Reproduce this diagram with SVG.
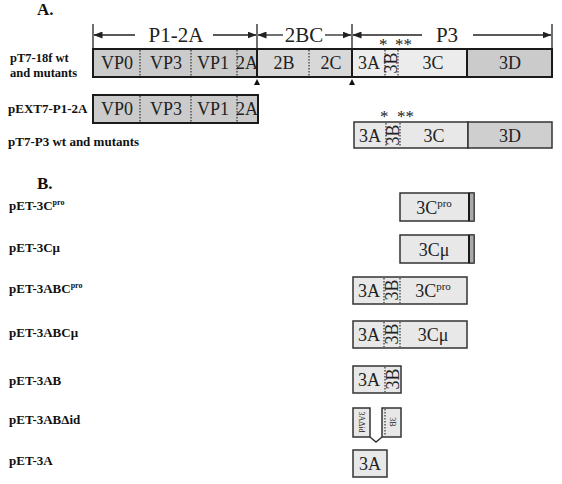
<svg xmlns="http://www.w3.org/2000/svg" width="562" height="484" viewBox="0 0 562 484">
<style>
.lbl{font-family:"Liberation Serif",serif;font-weight:bold;font-size:13px;fill:#111}
.hd{font-family:"Liberation Serif",serif;font-weight:bold;font-size:17px;fill:#111}
.bt{font-family:"Liberation Serif",serif;font-size:18px;fill:#222;text-anchor:middle}
.dim{font-family:"Liberation Serif",serif;font-size:21px;fill:#222;text-anchor:middle}
.ast{font-family:"Liberation Serif",serif;font-size:17px;fill:#222}
.dk{fill:#cbcbcb;stroke:#1a1a1a;stroke-width:2}
.md{fill:#d8d8d8;stroke:#1a1a1a;stroke-width:2}
.lt{fill:#ececec;stroke:#1a1a1a;stroke-width:2}
.bx{fill:#e8e8e8;stroke:#333;stroke-width:1.5}
.dot{stroke:#333;stroke-width:1.2;stroke-dasharray:1.5,1.5;fill:none}
.sol{stroke:#1a1a1a;stroke-width:2;fill:none}
.ln{stroke:#222;stroke-width:1.3;fill:none}
</style>
<defs>
<marker id="ah" markerWidth="9" markerHeight="7" refX="8.5" refY="3.5" orient="auto" markerUnits="userSpaceOnUse">
<path d="M0,0 L9,3.5 L0,7 Z" fill="#222"/>
</marker>
</defs>

<text class="hd" x="37" y="15">A.</text>
<text class="hd" x="37" y="189">B.</text>

<g id="connectors">
<line class="ln" x1="93" y1="24" x2="93" y2="49"/>
<line class="ln" x1="257" y1="24" x2="257" y2="49"/>
<line class="ln" x1="352" y1="24" x2="352" y2="49"/>
<line class="ln" x1="552" y1="24" x2="552" y2="49"/>
<line class="ln" x1="135" y1="35" x2="94" y2="35" marker-end="url(#ah)"/>
<line class="ln" x1="213" y1="35" x2="256" y2="35" marker-end="url(#ah)"/>
<line class="ln" x1="283" y1="35" x2="258" y2="35" marker-end="url(#ah)"/>
<line class="ln" x1="325" y1="35" x2="351" y2="35" marker-end="url(#ah)"/>
<line class="ln" x1="422" y1="35" x2="353" y2="35" marker-end="url(#ah)"/>
<line class="ln" x1="473" y1="35" x2="551" y2="35" marker-end="url(#ah)"/>
<path d="M257,79 L254,85 L260,85 Z" fill="#111"/>
<path d="M352,79 L349,85 L355,85 Z" fill="#111"/>
</g>
<text class="dim" x="176" y="42">P1-2A</text>
<text class="dim" x="304" y="42">2BC</text>
<text class="dim" x="447" y="42">P3</text>

<g id="pT7-18f">
<text class="lbl" x="10" y="62" style="font-size:12.5px">pT7-18f wt</text>
<text class="lbl" x="10" y="77" style="font-size:12.5px">and mutants</text>
<rect class="dk" x="93" y="49" width="164" height="28"/>
<rect class="md" x="257" y="49" width="95" height="28"/>
<rect class="lt" x="352" y="49" width="115" height="28"/>
<rect class="dk" x="467" y="49" width="85" height="28"/>
<line class="dot" x1="140" y1="50" x2="140" y2="76"/>
<line class="dot" x1="191" y1="50" x2="191" y2="76"/>
<line class="dot" x1="237" y1="50" x2="237" y2="76"/>
<line class="dot" x1="309" y1="50" x2="309" y2="76"/>
<line class="dot" x1="385" y1="50" x2="385" y2="76"/>
<line class="dot" x1="398" y1="50" x2="398" y2="76"/>
<text class="bt" x="117" y="69">VP0</text>
<text class="bt" x="166" y="69">VP3</text>
<text class="bt" x="213" y="69">VP1</text>
<text class="bt" x="247" y="69">2A</text>
<text class="bt" x="284" y="69">2B</text>
<text class="bt" x="331" y="69">2C</text>
<text class="bt" x="369" y="69">3A</text>
<text class="bt" transform="translate(397,63) rotate(-90)">3B</text>
<text class="bt" x="433" y="69">3C</text>
<text class="bt" x="510" y="69">3D</text>
<text class="ast" x="379" y="50">*</text>
<text class="ast" x="395" y="50">**</text>
</g>

<g id="pEXT7-P1-2A">
<text class="lbl" x="8" y="113">pEXT7-P1-2A</text>
<rect class="dk" x="93" y="95" width="165" height="28"/>
<line class="dot" x1="140" y1="96" x2="140" y2="122"/>
<line class="dot" x1="191" y1="96" x2="191" y2="122"/>
<line class="dot" x1="237" y1="96" x2="237" y2="122"/>
<text class="bt" x="117" y="115">VP0</text>
<text class="bt" x="166" y="115">VP3</text>
<text class="bt" x="213" y="115">VP1</text>
<text class="bt" x="247" y="115">2A</text>
</g>

<g id="pT7-P3">
<text class="lbl" x="8" y="146">pT7-P3 wt and mutants</text>
<rect class="bx" x="354" y="122" width="114" height="26"/>
<rect class="bx" x="468" y="122" width="84" height="26" style="fill:#cfcfcf"/>
<line class="dot" x1="386" y1="123" x2="386" y2="147"/>
<line class="dot" x1="400" y1="123" x2="400" y2="147"/>
<text class="bt" x="370" y="142">3A</text>
<text class="bt" transform="translate(399,135) rotate(-90)">3B</text>
<text class="bt" x="434" y="142">3C</text>
<text class="bt" x="510" y="142">3D</text>
<text class="ast" x="380" y="122">*</text>
<text class="ast" x="397" y="122">**</text>
</g>

<g id="pET-3Cpro">
<text class="lbl" x="9" y="210">pET-3C<tspan font-size="8" dy="-5">pro</tspan></text>
<rect class="bx" x="400" y="193" width="74" height="28"/>
<rect x="469" y="193" width="5" height="28" fill="#aaa" stroke="#333" stroke-width="1"/>
<line class="sol" x1="469" y1="193" x2="469" y2="221"/>
<text class="bt" x="434" y="214">3C<tspan font-size="11" dy="-7">pro</tspan></text>
</g>

<g id="pET-3Cmu">
<text class="lbl" x="9" y="252">pET-3Cμ</text>
<rect class="bx" x="400" y="235" width="74" height="28"/>
<rect x="469" y="235" width="5" height="28" fill="#aaa" stroke="#333" stroke-width="1"/>
<line class="sol" x1="469" y1="235" x2="469" y2="263"/>
<text class="bt" x="434" y="256">3Cμ</text>
</g>

<g id="pET-3ABCpro">
<text class="lbl" x="9" y="293">pET-3ABC<tspan font-size="8" dy="-5">pro</tspan></text>
<rect class="bx" x="353" y="277" width="114" height="27"/>
<line class="dot" x1="384" y1="278" x2="384" y2="303"/>
<line class="dot" x1="400" y1="278" x2="400" y2="303"/>
<text class="bt" x="369" y="297">3A</text>
<text class="bt" transform="translate(398,290) rotate(-90)">3B</text>
<text class="bt" x="433" y="297">3C<tspan font-size="11" dy="-7">pro</tspan></text>
</g>

<g id="pET-3ABCmu">
<text class="lbl" x="9" y="337">pET-3ABCμ</text>
<rect class="bx" x="353" y="321" width="114" height="27"/>
<line class="dot" x1="384" y1="322" x2="384" y2="347"/>
<line class="dot" x1="400" y1="322" x2="400" y2="347"/>
<text class="bt" x="369" y="341">3A</text>
<text class="bt" transform="translate(398,334) rotate(-90)">3B</text>
<text class="bt" x="433" y="341">3Cμ</text>
</g>

<g id="pET-3AB">
<text class="lbl" x="9" y="385">pET-3AB</text>
<rect class="bx" x="353" y="366" width="48" height="27"/>
<line class="dot" x1="385" y1="367" x2="385" y2="392"/>
<text class="bt" x="369" y="386">3A</text>
<text class="bt" transform="translate(399,379) rotate(-90)">3B</text>
</g>

<g id="pET-3ABdid">
<text class="lbl" x="9" y="424">pET-3ABΔid</text>
<path d="M370,437 L353,437 L353,408 L370,408 Z" fill="#e8e8e8" stroke="#333" stroke-width="1.5"/>
<path d="M382,437 L401,437 L401,408 L382,408 Z" fill="#e8e8e8" stroke="#333" stroke-width="1.5"/>
<path d="M370,437 L376,442 L382,437" fill="none" stroke="#333" stroke-width="1.5"/>
<line class="dot" x1="385" y1="409" x2="385" y2="436"/>
<text transform="translate(359,422) rotate(90)" font-family="Liberation Serif,serif" font-size="8" fill="#222" text-anchor="middle">3AΔid</text>
<text transform="translate(390,422) rotate(90)" font-family="Liberation Serif,serif" font-size="8" fill="#222" text-anchor="middle">3B</text>
</g>

<g id="pET-3A">
<text class="lbl" x="9" y="465">pET-3A</text>
<rect class="bx" x="353" y="450" width="34" height="27"/>
<text class="bt" x="370" y="470">3A</text>
</g>
</svg>
